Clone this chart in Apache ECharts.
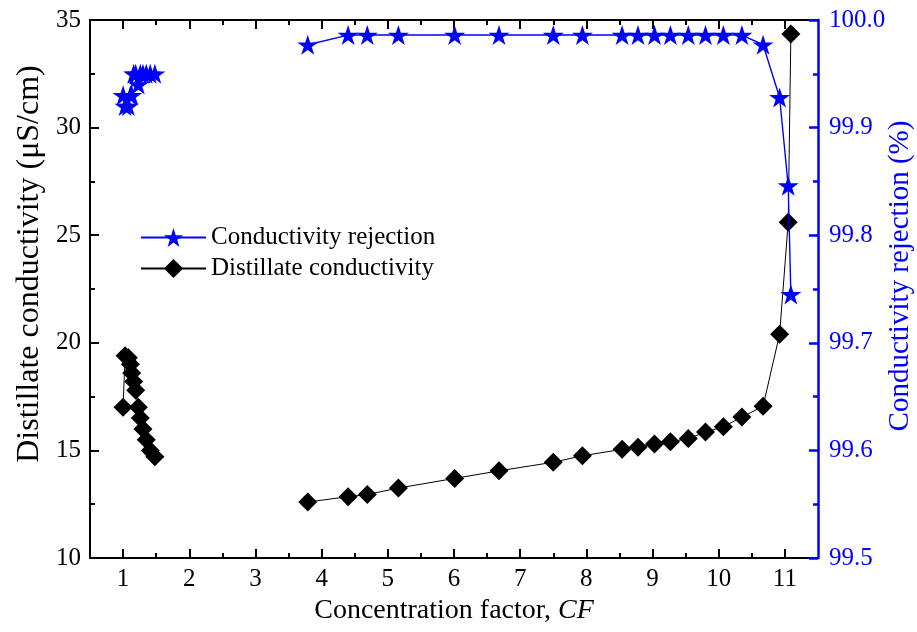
<!DOCTYPE html>
<html>
<head>
<meta charset="utf-8">
<script src="https://cdn.jsdelivr.net/npm/echarts@6/dist/echarts.min.js"></script>
<style>html,body{margin:0;padding:0;background:#fff}#c{width:917px;height:632px}</style>
</head>
<body>
<div id="c"></div>
<script>
// ---- data ----
const cfLeft = [1.0, 1.03, 1.08, 1.11, 1.13, 1.16, 1.19, 1.23, 1.26, 1.30, 1.35, 1.41, 1.48];
const condLeft = [17.0, 19.4, 19.3, 19.0, 18.6, 18.2, 17.8, 17.0, 16.5, 16.0, 15.5, 15.0, 14.7];
const rejLeft = [99.93, 99.92, 99.92, 99.93, 99.93, 99.95, 99.95, 99.94, 99.95, 99.95, 99.95, 99.95, 99.95];

const cfRight = [3.79, 4.40, 4.69, 5.16, 6.01, 6.68, 7.50, 7.94, 8.54, 8.78, 9.03, 9.27, 9.54, 9.80, 10.07, 10.35, 10.67, 10.92, 11.05, 11.09];
const condRight = [12.6, 12.85, 12.95, 13.25, 13.7, 14.05, 14.45, 14.75, 15.05, 15.15, 15.3, 15.4, 15.55, 15.85, 16.1, 16.55, 17.05, 20.4, 25.6, 34.35];
const rejRight = [99.977, 99.986, 99.986, 99.986, 99.986, 99.986, 99.986, 99.986, 99.986, 99.986, 99.986, 99.986, 99.986, 99.986, 99.986, 99.986, 99.977, 99.928, 99.846, 99.745];

const xTicks = [1, 2, 3, 4, 5, 6, 7, 8, 9, 10, 11];
const xMinorTicks = [1.5, 2.5, 3.5, 4.5, 5.5, 6.5, 7.5, 8.5, 9.5, 10.5];

// ---- build ----
function pairs(xs, ys) { return xs.map((x, i) => [x, ys[i]]); }
const condData = pairs(cfLeft, condLeft).concat([[2.5, null]], pairs(cfRight, condRight));
const rejData = pairs(cfLeft, rejLeft).concat([[2.5, null]], pairs(cfRight, rejRight));

const STAR = 'path://M100,0 L122.45,69.1 L195.11,69.1 L136.33,111.8 L158.78,180.9 L100,138.2 L41.22,180.9 L63.67,111.8 L4.89,69.1 L77.55,69.1 Z';
const FONT = 'Liberation Serif';
const BLUE = '#0000ff';
const TICKFS = 25;

function xAx(pos, ticks, len, labels, line) {
  return {
    type: 'value', position: pos, min: 0.5, max: 11.5,
    axisLine: { show: line, onZero: false, lineStyle: { color: '#000', width: 2 } },
    axisTick: { show: true, inside: true, length: len, customValues: ticks, lineStyle: { color: '#000', width: 2 } },
    axisLabel: { show: labels, customValues: ticks, color: '#000', fontFamily: FONT, fontSize: TICKFS, margin: 9 },
    splitLine: { show: false }
  };
}

const xMain = xAx('bottom', xTicks, 9, true, true);
xMain.name = 'Concentration factor, {i|CF}';
xMain.nameLocation = 'middle';
xMain.nameGap = 37;
xMain.nameTextStyle = { color: '#000', fontFamily: FONT, fontSize: 28,
  rich: { i: { fontStyle: 'italic', fontFamily: FONT, fontSize: 28, color: '#000' } } };

const option = {
  animation: false,
  backgroundColor: '#fff',
  grid: { left: 90, right: 99, top: 20, bottom: 74 },
  legend: {
    orient: 'vertical', left: 135, top: 220, itemWidth: 65, itemHeight: 24, itemGap: 6,
    textStyle: { fontFamily: FONT, fontSize: TICKFS, color: '#000' },
    data: ['Conductivity rejection', 'Distillate conductivity']
  },
  graphic: [
    { type: 'text', rotation: Math.PI / 2, z: 10, x: 30, y: 264,
      style: { text: 'Distillate conductivity (μS/cm)', fill: '#000', font: '32px "Liberation Serif"',
        align: 'center', verticalAlign: 'middle' } },
    { type: 'text', rotation: Math.PI / 2, z: 10, x: 900, y: 276,
      style: { text: 'Conductivity rejection (%)', fill: BLUE, font: '29px "Liberation Serif"',
        align: 'center', verticalAlign: 'middle' } }
  ],
  xAxis: [
    xMain,
    xAx('top', xTicks, 9, false, true),
    xAx('bottom', xMinorTicks, 5, false, false),
    xAx('top', xMinorTicks, 5, false, false)
  ],
  yAxis: [
    {
      type: 'value', position: 'left', min: 10, max: 35, interval: 5,
      axisLine: { show: true, lineStyle: { color: '#000', width: 2 } },
      axisTick: { inside: true, length: 9, lineStyle: { color: '#000', width: 2 } },
      minorTick: { show: true, splitNumber: 2, length: 5, lineStyle: { color: '#000', width: 2 } },
      axisLabel: { color: '#000', fontFamily: FONT, fontSize: TICKFS, margin: 9 },
      splitLine: { show: false }
    },
    {
      type: 'value', position: 'right', min: 99.5, max: 100, interval: 0.1,
      axisLine: { show: true, lineStyle: { color: BLUE, width: 2.5 } },
      axisTick: { inside: true, length: 9, lineStyle: { color: BLUE, width: 2.5 } },
      minorTick: { show: true, splitNumber: 2, length: 5, lineStyle: { color: BLUE, width: 2.5 } },
      axisLabel: { color: BLUE, fontFamily: FONT, fontSize: TICKFS, margin: 11, formatter: v => v.toFixed(1) },
      splitLine: { show: false }
    }
  ],
  series: [
    {
      name: 'Conductivity rejection', type: 'line', xAxisIndex: 0, yAxisIndex: 1,
      data: rejData, connectNulls: false,
      symbol: STAR, symbolSize: [21, 20], showAllSymbol: true,
      itemStyle: { color: BLUE }, lineStyle: { color: BLUE, width: 1.4 }, z: 3
    },
    {
      name: 'Distillate conductivity', type: 'line', xAxisIndex: 0, yAxisIndex: 0,
      data: condData, connectNulls: false,
      symbol: 'diamond', symbolSize: 19, showAllSymbol: true,
      itemStyle: { color: '#000' }, lineStyle: { color: '#000', width: 1 }, z: 2
    }
  ]
};

echarts.init(document.getElementById('c'), null, { renderer: 'canvas' }).setOption(option);
</script>
</body>
</html>
